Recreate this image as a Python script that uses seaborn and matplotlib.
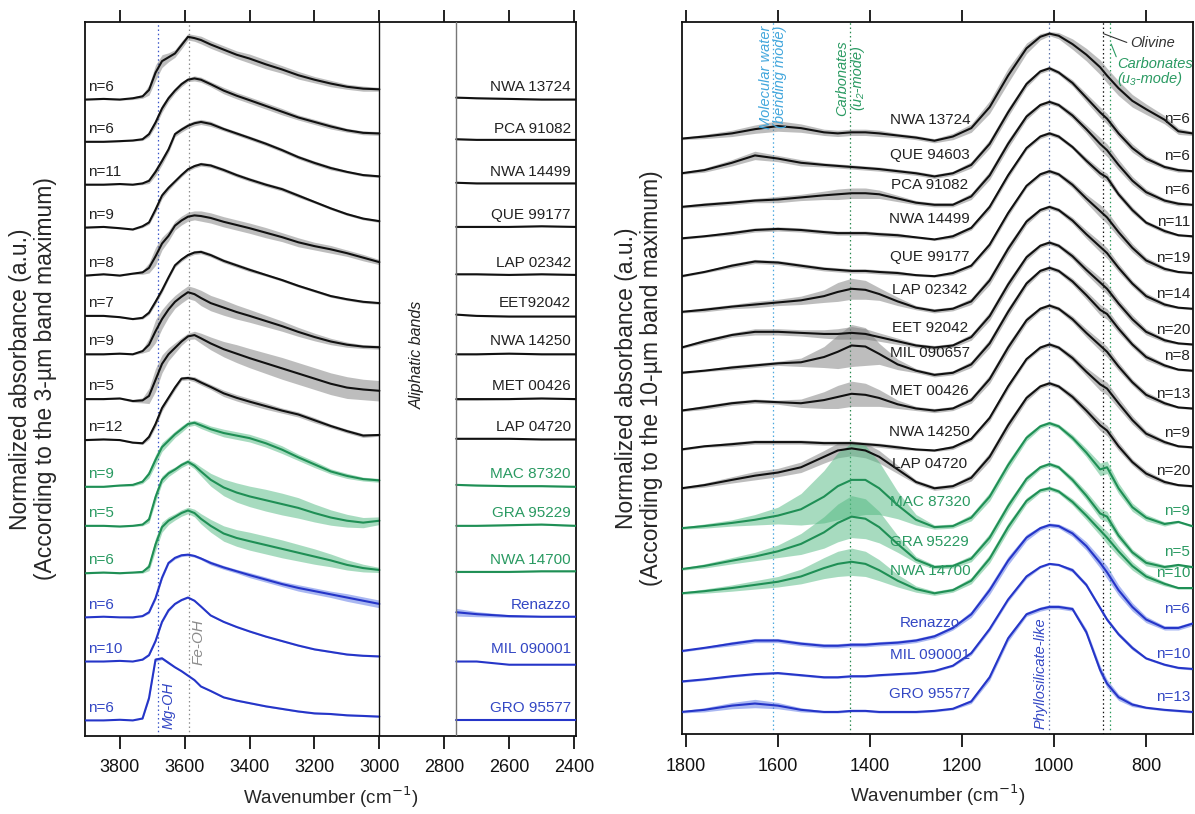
import numpy as np
import pandas as pd
import matplotlib
matplotlib.use("Agg")
import matplotlib.pyplot as plt
import matplotlib.transforms as mtransforms
import seaborn as sns

# ---------------- LEFT PANEL DATA (3-um band) ----------------
L_X = [3905, 3850, 3800, 3760, 3730, 3710, 3690, 3670, 3650, 3630, 3610, 3590, 3570,
       3550, 3520, 3480, 3440, 3400, 3350, 3300, 3250, 3200, 3150, 3100, 3050, 3000]
L_X2 = [2763, 2700, 2600, 2500, 2395]
L_NAMES = ["NWA 13724", "PCA 91082", "NWA 14499", "QUE 99177", "LAP 02342", "EET92042",
           "NWA 14250", "MET 00426", "LAP 04720", "MAC 87320", "GRA 95229", "NWA 14700",
           "Renazzo", "MIL 090001", "GRO 95577"]
L_N = ["n=6", "n=6", "n=11", "n=9", "n=8", "n=7", "n=9", "n=5", "n=12", "n=9", "n=5", "n=6",
       "n=6", "n=10", "n=6"]
L_GROUP = ["CM", "CM", "CM", "CM", "CM", "CM", "CM", "CM", "CM", "CO", "CO", "CO", "CR", "CR", "CR"]
L_OFFSET = [9.94, 9.28, 8.61, 7.94, 7.19, 6.56, 5.96, 5.26, 4.62, 3.89, 3.28, 2.54, 1.85, 1.16, 0.24]
L_Y = [
    [0, 0.01, 0.0, 0.02, 0.05, 0.15, 0.42, 0.6, 0.66, 0.72, 0.85, 0.98, 0.96, 0.93, 0.86, 0.78, 0.7, 0.64, 0.55, 0.47, 0.38, 0.31, 0.25, 0.2, 0.17, 0.16],
    [0, 0.0, 0.01, 0.02, 0.04, 0.12, 0.3, 0.52, 0.68, 0.8, 0.9, 0.97, 0.99, 0.97, 0.9, 0.8, 0.72, 0.65, 0.56, 0.47, 0.38, 0.31, 0.24, 0.18, 0.14, 0.13],
    [0, 0, 0.01, 0.0, 0.02, 0.06, 0.2, 0.37, 0.55, 0.79, 0.86, 0.92, 0.96, 0.98, 0.95, 0.87, 0.8, 0.73, 0.64, 0.54, 0.43, 0.34, 0.26, 0.2, 0.15, 0.13],
    [0, 0.01, -0.01, -0.03, 0.02, 0.08, 0.28, 0.5, 0.62, 0.72, 0.82, 0.91, 0.96, 0.99, 0.97, 0.9, 0.82, 0.75, 0.67, 0.6, 0.5, 0.4, 0.3, 0.21, 0.14, 0.1],
    [0, 0.02, 0.0, 0.03, 0.05, 0.12, 0.3, 0.5, 0.62, 0.78, 0.86, 0.92, 0.94, 0.93, 0.9, 0.84, 0.79, 0.74, 0.67, 0.6, 0.52, 0.46, 0.41, 0.35, 0.28, 0.21],
    [0, 0.0, -0.02, -0.05, -0.03, 0.05, 0.22, 0.4, 0.6, 0.79, 0.88, 0.95, 0.99, 1.0, 0.95, 0.86, 0.79, 0.72, 0.64, 0.56, 0.47, 0.39, 0.31, 0.26, 0.22, 0.2],
    [0, 0.0, 0.01, 0.0, 0.05, 0.15, 0.36, 0.55, 0.7, 0.82, 0.9, 0.97, 0.94, 0.88, 0.8, 0.73, 0.66, 0.6, 0.52, 0.44, 0.35, 0.27, 0.2, 0.15, 0.12, 0.11],
    [0, 0.0, 0.01, -0.03, -0.02, 0.05, 0.3, 0.55, 0.7, 0.8, 0.9, 0.98, 1.0, 0.95, 0.87, 0.78, 0.71, 0.64, 0.56, 0.48, 0.4, 0.32, 0.24, 0.18, 0.15, 0.13],
    [0, 0.01, 0.0, -0.04, -0.05, 0.05, 0.25, 0.5, 0.66, 0.82, 0.96, 0.97, 0.95, 0.9, 0.83, 0.73, 0.66, 0.6, 0.53, 0.46, 0.4, 0.31, 0.22, 0.14, 0.07, 0.08],
    [0, 0.0, 0.02, 0.03, 0.08, 0.2, 0.42, 0.62, 0.72, 0.82, 0.9, 0.98, 1.0, 0.96, 0.9, 0.84, 0.8, 0.76, 0.68, 0.58, 0.46, 0.35, 0.24, 0.17, 0.12, 0.1],
    [0, 0.0, -0.01, 0.0, 0.02, 0.1, 0.45, 0.72, 0.82, 0.88, 0.95, 1.0, 0.94, 0.85, 0.72, 0.6, 0.52, 0.46, 0.4, 0.34, 0.28, 0.2, 0.13, 0.08, 0.05, 0.08],
    [0, 0.01, 0.0, 0.01, 0.02, 0.1, 0.45, 0.72, 0.82, 0.88, 0.94, 0.98, 0.94, 0.85, 0.74, 0.62, 0.55, 0.5, 0.44, 0.38, 0.32, 0.26, 0.2, 0.13, 0.08, 0.05],
    [0, 0.01, 0.0, 0.0, 0.02, 0.08, 0.3, 0.62, 0.85, 0.93, 0.97, 0.98, 0.96, 0.92, 0.85, 0.78, 0.72, 0.66, 0.59, 0.52, 0.46, 0.41, 0.36, 0.31, 0.26, 0.21],
    [0, 0.0, 0.01, 0.0, 0.03, 0.1, 0.32, 0.62, 0.8, 0.9, 0.96, 1.0, 0.95, 0.86, 0.72, 0.62, 0.54, 0.47, 0.39, 0.32, 0.25, 0.19, 0.15, 0.11, 0.09, 0.08],
    [0, 0.0, 0.01, 0.0, 0.03, 0.35, 0.95, 0.97, 0.9, 0.83, 0.77, 0.7, 0.63, 0.53, 0.46, 0.36, 0.31, 0.27, 0.22, 0.18, 0.14, 0.11, 0.1, 0.08, 0.07, 0.06],
]
L_Y2 = [
    [0.03, 0.02, 0.01, 0.0, 0.0], [0.04, 0.03, 0.03, 0.03, 0.03], [0.03, 0.02, 0.02, 0.02, 0.02],
    [0.01, 0.01, 0.01, 0.02, 0.01], [0.02, 0.02, 0.01, 0.02, 0.01], [0.02, 0.0, -0.01, -0.01, -0.01],
    [0.0, 0.0, 0.01, 0.0, 0.0], [0.0, 0.0, 0.0, 0.01, 0.0], [0.02, 0.02, 0.02, 0.01, 0.01],
    [0.03, 0.02, 0.01, 0.01, 0.0], [0.0, 0.0, 0.01, 0.02, 0.0], [0.02, 0.02, 0.02, 0.03, 0.03],
    [0.08, 0.05, 0.02, 0.01, 0.01], [0.0, 0.0, -0.05, -0.05, -0.05], [0.0, 0.0, 0.0, 0.0, 0.0],
]
L_SD = [
    [0.01, 0.01, 0.01, 0.02, 0.03, 0.08, 0.12, 0.1, 0.07, 0.06, 0.06, 0.05, 0.05, 0.06, 0.06, 0.06, 0.06, 0.07, 0.07, 0.06, 0.06, 0.05, 0.05, 0.04, 0.04, 0.03],
    [0.01, 0.01, 0.01, 0.01, 0.02, 0.04, 0.06, 0.06, 0.05, 0.04, 0.04, 0.03, 0.04, 0.04, 0.04, 0.05, 0.05, 0.05, 0.05, 0.05, 0.04, 0.04, 0.04, 0.03, 0.03, 0.03],
    [0.01, 0.01, 0.01, 0.01, 0.02, 0.04, 0.06, 0.06, 0.05, 0.04, 0.04, 0.04, 0.04, 0.04, 0.04, 0.03, 0.03, 0.03, 0.03, 0.03, 0.03, 0.03, 0.03, 0.02, 0.02, 0.02],
    [0.01, 0.01, 0.01, 0.01, 0.02, 0.03, 0.05, 0.05, 0.04, 0.03, 0.03, 0.03, 0.03, 0.03, 0.03, 0.03, 0.03, 0.03, 0.03, 0.03, 0.03, 0.02, 0.02, 0.02, 0.02, 0.02],
    [0.01, 0.01, 0.01, 0.01, 0.03, 0.08, 0.14, 0.1, 0.08, 0.07, 0.07, 0.07, 0.07, 0.08, 0.08, 0.08, 0.08, 0.08, 0.08, 0.07, 0.07, 0.06, 0.06, 0.05, 0.05, 0.04],
    [0.01, 0.01, 0.01, 0.01, 0.02, 0.03, 0.04, 0.04, 0.03, 0.03, 0.03, 0.03, 0.03, 0.03, 0.03, 0.03, 0.03, 0.03, 0.02, 0.02, 0.02, 0.02, 0.02, 0.02, 0.02, 0.02],
    [0.01, 0.01, 0.01, 0.01, 0.03, 0.1, 0.18, 0.15, 0.12, 0.1, 0.1, 0.1, 0.1, 0.12, 0.12, 0.12, 0.11, 0.1, 0.09, 0.08, 0.07, 0.06, 0.05, 0.04, 0.03, 0.03],
    [0.01, 0.01, 0.01, 0.02, 0.04, 0.12, 0.18, 0.14, 0.1, 0.08, 0.06, 0.05, 0.06, 0.08, 0.1, 0.12, 0.14, 0.15, 0.16, 0.17, 0.17, 0.17, 0.17, 0.17, 0.16, 0.16],
    [0.01, 0.01, 0.01, 0.01, 0.02, 0.04, 0.05, 0.05, 0.04, 0.04, 0.03, 0.03, 0.04, 0.04, 0.04, 0.05, 0.05, 0.05, 0.05, 0.04, 0.04, 0.04, 0.03, 0.03, 0.03, 0.02],
    [0.01, 0.01, 0.01, 0.02, 0.03, 0.06, 0.08, 0.07, 0.06, 0.05, 0.05, 0.04, 0.04, 0.05, 0.05, 0.06, 0.06, 0.06, 0.06, 0.06, 0.05, 0.05, 0.04, 0.04, 0.03, 0.03],
    [0.01, 0.01, 0.01, 0.01, 0.02, 0.05, 0.08, 0.06, 0.05, 0.04, 0.04, 0.04, 0.05, 0.07, 0.1, 0.13, 0.15, 0.16, 0.17, 0.17, 0.16, 0.14, 0.12, 0.1, 0.08, 0.06],
    [0.01, 0.01, 0.01, 0.01, 0.02, 0.06, 0.1, 0.08, 0.06, 0.05, 0.05, 0.05, 0.06, 0.08, 0.1, 0.12, 0.13, 0.14, 0.14, 0.14, 0.13, 0.12, 0.1, 0.08, 0.06, 0.04],
    [0.0, 0.0, 0.0, 0.01, 0.01, 0.02, 0.03, 0.03, 0.02, 0.02, 0.02, 0.02, 0.02, 0.02, 0.03, 0.03, 0.03, 0.04, 0.04, 0.04, 0.05, 0.05, 0.05, 0.06, 0.06, 0.06],
    [0.0, 0.0, 0.0, 0.0, 0.01, 0.01, 0.02, 0.02, 0.02, 0.01, 0.01, 0.01, 0.01, 0.01, 0.01, 0.01, 0.01, 0.01, 0.01, 0.01, 0.01, 0.01, 0.01, 0.01, 0.01, 0.01],
    [0.0, 0.0, 0.0, 0.0, 0.01, 0.03, 0.03, 0.02, 0.02, 0.01, 0.01, 0.01, 0.01, 0.01, 0.01, 0.01, 0.01, 0.01, 0.01, 0.01, 0.01, 0.01, 0.01, 0.01, 0.01, 0.01],
]
L_SD2 = [
    [0.01, 0.01, 0.01, 0.01, 0.01], [0.01, 0.01, 0.01, 0.01, 0.01], [0.01, 0.01, 0.01, 0.01, 0.01],
    [0.01, 0.01, 0.01, 0.01, 0.01], [0.01, 0.01, 0.01, 0.01, 0.01], [0.01, 0.01, 0.01, 0.01, 0.01],
    [0.01, 0.01, 0.01, 0.01, 0.01], [0.02, 0.02, 0.01, 0.01, 0.01], [0.01, 0.01, 0.01, 0.01, 0.01],
    [0.01, 0.01, 0.01, 0.01, 0.01], [0.01, 0.01, 0.01, 0.01, 0.01], [0.01, 0.01, 0.01, 0.01, 0.01],
    [0.06, 0.04, 0.02, 0.01, 0.01], [0.0, 0.0, 0.0, 0.0, 0.0], [0.0, 0.0, 0.0, 0.0, 0.0],
]
L_TICKS = [3800, 3600, 3400, 3200, 3000, 2800, 2600, 2400]

# ---------------- RIGHT PANEL DATA (10-um band) ----------------
R_X = [1810, 1760, 1700, 1650, 1600, 1550, 1500, 1470, 1440, 1410, 1380, 1340, 1300, 1260, 1220, 1180,
       1140, 1100, 1060, 1030, 1010, 990, 960, 930, 900, 885, 860, 830, 800, 760, 730, 700]
R_NAMES = ["NWA 13724", "QUE 94603", "PCA 91082", "NWA 14499", "QUE 99177", "LAP 02342", "EET 92042",
           "MIL 090657", "MET 00426", "NWA 14250", "LAP 04720", "MAC 87320", "GRA 95229", "NWA 14700",
           "Renazzo", "MIL 090001", "GRO 95577"]
R_N = ["n=6", "n=6", "n=6", "n=11", "n=19", "n=14", "n=20", "n=8", "n=13", "n=9", "n=20", "n=9", "n=5",
       "n=10", "n=6", "n=10", "n=13"]
R_GROUP = ["CM"] * 11 + ["CO"] * 3 + ["CR"] * 3
R_OFFSET = [5.67, 5.34, 5.02, 4.72, 4.36, 4.02, 3.68, 3.44, 3.08, 2.71, 2.34, 1.96, 1.57, 1.34, 0.99, 0.62, 0.21]
R_Y = [
    [0, 0.02, 0.05, 0.09, 0.12, 0.1, 0.06, 0.05, 0.06, 0.06, 0.05, 0.03, 0.01, -0.02, 0.02, 0.1, 0.3, 0.6, 0.86, 0.97, 1.0, 0.98, 0.9, 0.8, 0.68, 0.6, 0.48, 0.36, 0.28, 0.18, 0.07, 0.05],
    [0, 0.03, 0.1, 0.17, 0.14, 0.1, 0.08, 0.07, 0.06, 0.05, 0.04, 0.02, 0.0, -0.03, 0.0, 0.08, 0.28, 0.58, 0.85, 0.97, 1.0, 0.96, 0.86, 0.72, 0.58, 0.52, 0.38, 0.24, 0.14, 0.06, 0.03, 0.02],
    [0, 0.02, 0.04, 0.06, 0.07, 0.09, 0.11, 0.12, 0.13, 0.13, 0.12, 0.08, 0.04, 0.02, 0.02, 0.1, 0.3, 0.6, 0.86, 0.97, 1.0, 0.97, 0.87, 0.74, 0.6, 0.54, 0.4, 0.25, 0.14, 0.06, 0.03, 0.02],
    [0, 0.02, 0.05, 0.08, 0.09, 0.08, 0.06, 0.05, 0.05, 0.05, 0.04, 0.03, 0.01, -0.01, 0.02, 0.1, 0.3, 0.6, 0.86, 0.97, 1.0, 0.97, 0.87, 0.74, 0.62, 0.58, 0.42, 0.27, 0.15, 0.07, 0.03, 0.02],
    [0, 0.04, 0.1, 0.14, 0.13, 0.1, 0.07, 0.06, 0.05, 0.05, 0.04, 0.03, 0.01, 0.0, 0.03, 0.1, 0.3, 0.6, 0.86, 0.97, 1.0, 0.97, 0.87, 0.74, 0.62, 0.56, 0.42, 0.27, 0.15, 0.07, 0.04, 0.03],
    [0, 0.02, 0.05, 0.07, 0.09, 0.11, 0.15, 0.19, 0.22, 0.21, 0.17, 0.1, 0.04, 0.01, 0.03, 0.1, 0.3, 0.6, 0.86, 0.97, 1.0, 0.97, 0.87, 0.74, 0.62, 0.56, 0.42, 0.27, 0.15, 0.07, 0.04, 0.03],
    [0, 0.06, 0.12, 0.15, 0.15, 0.14, 0.13, 0.13, 0.14, 0.13, 0.1, 0.06, 0.02, 0.0, 0.02, 0.1, 0.3, 0.6, 0.86, 0.97, 1.0, 0.97, 0.87, 0.74, 0.62, 0.56, 0.42, 0.27, 0.15, 0.07, 0.04, 0.03],
    [0, 0.02, 0.05, 0.07, 0.09, 0.1, 0.15, 0.2, 0.26, 0.25, 0.18, 0.08, 0.02, -0.02, 0.0, 0.08, 0.28, 0.58, 0.85, 0.97, 1.0, 0.97, 0.87, 0.74, 0.6, 0.56, 0.42, 0.27, 0.15, 0.07, 0.03, 0.02],
    [0, 0.03, 0.07, 0.09, 0.08, 0.07, 0.1, 0.13, 0.16, 0.15, 0.12, 0.06, 0.02, 0.0, 0.02, 0.1, 0.3, 0.6, 0.86, 0.97, 1.0, 0.97, 0.87, 0.74, 0.62, 0.56, 0.42, 0.27, 0.15, 0.07, 0.03, 0.02],
    [0, 0.03, 0.05, 0.07, 0.07, 0.07, 0.06, 0.06, 0.06, 0.05, 0.04, 0.02, 0.0, -0.01, 0.02, 0.1, 0.3, 0.6, 0.86, 0.97, 1.0, 0.97, 0.87, 0.74, 0.62, 0.58, 0.44, 0.28, 0.15, 0.07, 0.03, 0.02],
    [0, 0.03, 0.08, 0.12, 0.15, 0.2, 0.3, 0.36, 0.38, 0.36, 0.3, 0.18, 0.06, 0.0, 0.02, 0.1, 0.3, 0.6, 0.86, 0.97, 1.0, 0.97, 0.87, 0.74, 0.6, 0.55, 0.4, 0.25, 0.14, 0.06, 0.03, 0.02],
    [0, 0.02, 0.05, 0.08, 0.12, 0.18, 0.3, 0.4, 0.46, 0.46, 0.38, 0.22, 0.08, 0.01, 0.02, 0.1, 0.3, 0.6, 0.86, 0.97, 1.0, 0.97, 0.86, 0.72, 0.56, 0.58, 0.38, 0.2, 0.1, 0.04, 0.06, 0.02],
    [0, 0.03, 0.08, 0.12, 0.17, 0.24, 0.35, 0.44, 0.5, 0.48, 0.4, 0.24, 0.09, 0.02, 0.03, 0.1, 0.3, 0.6, 0.86, 0.97, 1.0, 0.97, 0.85, 0.7, 0.53, 0.5, 0.32, 0.16, 0.06, 0.02, 0.04, 0.02],
    [0, 0.02, 0.05, 0.08, 0.11, 0.16, 0.24, 0.28, 0.3, 0.28, 0.22, 0.12, 0.04, 0.0, 0.03, 0.12, 0.33, 0.63, 0.88, 0.98, 1.0, 0.97, 0.87, 0.74, 0.6, 0.53, 0.4, 0.26, 0.16, 0.09, 0.05, 0.05],
    [-0.2, -0.17, -0.13, -0.1, -0.1, -0.13, -0.15, -0.15, -0.14, -0.14, -0.13, -0.12, -0.1, -0.06, 0.02, 0.15, 0.38, 0.66, 0.88, 0.97, 1.0, 0.99, 0.92, 0.8, 0.64, 0.55, 0.38, 0.22, 0.1, 0.02, 0.02, 0.06],
    [-0.12, -0.1, -0.07, -0.05, -0.04, -0.06, -0.08, -0.08, -0.07, -0.07, -0.06, -0.05, -0.04, -0.02, 0.03, 0.15, 0.38, 0.66, 0.88, 0.97, 1.0, 0.99, 0.94, 0.8, 0.58, 0.47, 0.33, 0.2, 0.1, 0.04, 0.01, 0.0],
    [0, 0.02, 0.06, 0.08, 0.06, 0.02, 0.0, 0.0, 0.01, 0.01, 0.0, 0.0, 0.0, 0.01, 0.03, 0.1, 0.33, 0.7, 0.93, 0.98, 1.0, 1.0, 0.98, 0.76, 0.4, 0.27, 0.14, 0.07, 0.04, 0.02, 0.01, 0.0],
]
R_SD = [
    [0.01, 0.02, 0.03, 0.04, 0.05, 0.04, 0.03, 0.03, 0.03, 0.03, 0.03, 0.02, 0.02, 0.02, 0.03, 0.04, 0.06, 0.07, 0.05, 0.03, 0.02, 0.03, 0.05, 0.06, 0.07, 0.07, 0.07, 0.06, 0.05, 0.04, 0.03, 0.02],
    [0.01, 0.02, 0.03, 0.04, 0.03, 0.03, 0.02, 0.02, 0.02, 0.02, 0.02, 0.02, 0.02, 0.02, 0.02, 0.03, 0.04, 0.04, 0.03, 0.02, 0.02, 0.02, 0.03, 0.04, 0.05, 0.05, 0.04, 0.04, 0.03, 0.02, 0.02, 0.01],
    [0.01, 0.02, 0.02, 0.02, 0.03, 0.03, 0.04, 0.05, 0.05, 0.05, 0.04, 0.03, 0.02, 0.02, 0.02, 0.03, 0.04, 0.04, 0.03, 0.02, 0.02, 0.02, 0.03, 0.04, 0.06, 0.06, 0.05, 0.04, 0.03, 0.02, 0.02, 0.01],
    [0.01, 0.01, 0.02, 0.02, 0.02, 0.02, 0.02, 0.02, 0.02, 0.02, 0.02, 0.02, 0.01, 0.01, 0.02, 0.02, 0.03, 0.03, 0.02, 0.02, 0.02, 0.02, 0.02, 0.03, 0.04, 0.04, 0.03, 0.03, 0.02, 0.02, 0.01, 0.01],
    [0.01, 0.01, 0.02, 0.02, 0.02, 0.02, 0.02, 0.02, 0.02, 0.02, 0.02, 0.02, 0.01, 0.01, 0.02, 0.02, 0.03, 0.03, 0.02, 0.02, 0.02, 0.02, 0.03, 0.04, 0.06, 0.06, 0.05, 0.04, 0.03, 0.02, 0.01, 0.01],
    [0.01, 0.02, 0.02, 0.03, 0.03, 0.04, 0.06, 0.09, 0.1, 0.09, 0.06, 0.04, 0.02, 0.02, 0.02, 0.03, 0.04, 0.04, 0.03, 0.02, 0.02, 0.02, 0.03, 0.04, 0.05, 0.05, 0.04, 0.03, 0.03, 0.02, 0.01, 0.01],
    [0.01, 0.02, 0.02, 0.03, 0.03, 0.03, 0.04, 0.05, 0.06, 0.05, 0.04, 0.03, 0.02, 0.02, 0.02, 0.03, 0.04, 0.04, 0.03, 0.02, 0.02, 0.02, 0.03, 0.04, 0.05, 0.05, 0.04, 0.04, 0.03, 0.02, 0.01, 0.01],
    [0.01, 0.01, 0.02, 0.02, 0.02, 0.04, 0.1, 0.16, 0.2, 0.18, 0.1, 0.05, 0.02, 0.02, 0.02, 0.03, 0.04, 0.04, 0.03, 0.02, 0.02, 0.02, 0.03, 0.04, 0.05, 0.05, 0.04, 0.03, 0.03, 0.02, 0.01, 0.01],
    [0.01, 0.02, 0.02, 0.02, 0.02, 0.04, 0.08, 0.11, 0.12, 0.11, 0.08, 0.04, 0.02, 0.02, 0.02, 0.03, 0.04, 0.04, 0.03, 0.02, 0.02, 0.02, 0.03, 0.04, 0.05, 0.05, 0.04, 0.03, 0.03, 0.02, 0.01, 0.01],
    [0.01, 0.01, 0.02, 0.02, 0.02, 0.02, 0.02, 0.02, 0.02, 0.02, 0.02, 0.02, 0.01, 0.01, 0.02, 0.02, 0.03, 0.03, 0.02, 0.02, 0.02, 0.02, 0.03, 0.04, 0.06, 0.06, 0.05, 0.04, 0.03, 0.02, 0.01, 0.01],
    [0.01, 0.02, 0.03, 0.04, 0.04, 0.05, 0.06, 0.07, 0.07, 0.07, 0.06, 0.04, 0.02, 0.02, 0.02, 0.03, 0.04, 0.04, 0.03, 0.02, 0.02, 0.02, 0.03, 0.04, 0.05, 0.05, 0.04, 0.03, 0.03, 0.02, 0.01, 0.01],
    [0.01, 0.02, 0.03, 0.05, 0.08, 0.15, 0.25, 0.32, 0.35, 0.33, 0.25, 0.13, 0.05, 0.02, 0.02, 0.03, 0.04, 0.04, 0.03, 0.02, 0.02, 0.02, 0.03, 0.04, 0.06, 0.06, 0.05, 0.04, 0.03, 0.02, 0.01, 0.01],
    [0.01, 0.02, 0.03, 0.04, 0.06, 0.1, 0.15, 0.18, 0.2, 0.19, 0.15, 0.08, 0.03, 0.02, 0.02, 0.03, 0.04, 0.04, 0.03, 0.02, 0.02, 0.02, 0.03, 0.04, 0.05, 0.05, 0.04, 0.03, 0.03, 0.02, 0.01, 0.01],
    [0.01, 0.02, 0.03, 0.04, 0.05, 0.07, 0.1, 0.12, 0.13, 0.12, 0.1, 0.06, 0.03, 0.02, 0.02, 0.03, 0.04, 0.04, 0.03, 0.02, 0.02, 0.02, 0.03, 0.04, 0.05, 0.06, 0.05, 0.04, 0.03, 0.02, 0.01, 0.01],
    [0.01, 0.01, 0.02, 0.02, 0.02, 0.02, 0.02, 0.02, 0.02, 0.02, 0.02, 0.02, 0.02, 0.02, 0.02, 0.03, 0.04, 0.04, 0.03, 0.02, 0.02, 0.02, 0.03, 0.04, 0.05, 0.06, 0.05, 0.04, 0.03, 0.02, 0.02, 0.02],
    [0.01, 0.01, 0.01, 0.01, 0.01, 0.01, 0.01, 0.01, 0.01, 0.01, 0.01, 0.01, 0.01, 0.01, 0.01, 0.02, 0.02, 0.02, 0.02, 0.01, 0.01, 0.01, 0.02, 0.02, 0.02, 0.02, 0.02, 0.02, 0.01, 0.01, 0.01, 0.01],
    [0.01, 0.02, 0.03, 0.04, 0.03, 0.02, 0.01, 0.01, 0.01, 0.01, 0.01, 0.01, 0.01, 0.01, 0.01, 0.02, 0.03, 0.03, 0.02, 0.02, 0.02, 0.02, 0.02, 0.03, 0.04, 0.04, 0.03, 0.02, 0.01, 0.01, 0.01, 0.01],
]
R_TICKS = [1800, 1600, 1400, 1200, 1000, 800]

# ---------------- STYLE ----------------
LINE_C = {"CM": "#111111", "CO": "#1f8f55", "CR": "#2535c8"}
FILL_C = {"CM": "#7d7d7d", "CO": "#51b981", "CR": "#5571e5"}
FILL_A = 0.5
TEXT_C = {"CM": "#222222", "CO": "#2a9a62", "CR": "#3347c4"}
FS_LAB = 11

sns.set_theme(style="white")
plt.rcParams['font.family'] = ['Liberation Sans', 'DejaVu Sans']

fig = plt.figure(figsize=(11.95, 8.14), dpi=100)
axL = fig.add_axes([0.0715, 0.0961, 0.4105, 0.877])
axR = fig.add_axes([0.5705, 0.0983, 0.4279, 0.8747])

LYMAX = 713.8 / 64.0
RYMAX = 712.0 / 105.0


def draw(ax, x, off, y, sd, grp):
    y = np.asarray(y, float)
    sd = np.asarray(sd, float)
    ax.fill_between(x, off + y - sd, off + y + sd, color=FILL_C[grp], alpha=FILL_A, lw=0, zorder=1)
    df = pd.DataFrame({"x": x, "y": off + y})
    sns.lineplot(data=df, x="x", y="y", ax=ax, color=LINE_C[grp], lw=1.5,
                 sort=False, estimator=None, zorder=3)


# left panel
for i in range(len(L_NAMES)):
    g = L_GROUP[i]
    draw(axL, L_X, L_OFFSET[i], L_Y[i], L_SD[i], g)
    draw(axL, L_X2, L_OFFSET[i], L_Y2[i], L_SD2[i], g)
    axL.text(3898, L_OFFSET[i] + 0.2, L_N[i], ha="left", va="center", fontsize=FS_LAB, color=TEXT_C[g])
    axL.text(2410, L_OFFSET[i] + 0.2, L_NAMES[i], ha="right", va="center", fontsize=FS_LAB, color=TEXT_C[g])

dot = (0, (1.2, 2.2))
axL.axvline(3682, color="#3a55c8", lw=0.9, ls=dot, zorder=0)
axL.axvline(3588, color="#8c8c8c", lw=0.9, ls=dot, zorder=0)
axL.axvline(3000, color="#111111", lw=1.0, zorder=4)
axL.axvline(2763, color="#777777", lw=1.0, zorder=4)
tL = mtransforms.blended_transform_factory(axL.transData, axL.transAxes)
axL.text(2882, 0.533, "Aliphatic bands", rotation=90, style="italic", ha="center", va="center",
         fontsize=11.5, color="#222222", transform=tL)
axL.text(3650, 0.043, "Mg-OH", rotation=90, style="italic", ha="center", va="center",
         fontsize=10.5, color="#3347c4", transform=tL)
axL.text(3557, 0.131, "Fe-OH", rotation=90, style="italic", ha="center", va="center",
         fontsize=11, color="#8c8c8c", transform=tL)

axL.set_xlim(3906, 2394)
axL.set_ylim(0, LYMAX)
axL.set_xticks(L_TICKS)
axL.set_xticklabels([str(t) for t in L_TICKS])

# right panel
for i in range(len(R_NAMES)):
    g = R_GROUP[i]
    draw(axR, R_X, R_OFFSET[i], R_Y[i], R_SD[i], g)
    axR.text(704, R_OFFSET[i] + R_Y[i][-1] + 0.14, R_N[i], ha="right", va="center", fontsize=FS_LAB, color=TEXT_C[g])
    axR.text(1270, R_OFFSET[i] + R_Y[i][12] + 0.17, R_NAMES[i], ha="center", va="center", fontsize=FS_LAB, color=TEXT_C[g])

axR.axvline(1611, color="#4aa8df", lw=0.9, ls=dot, zorder=0)
axR.axvline(1444, color="#2a8a50", lw=0.9, ls=dot, zorder=0)
axR.axvline(1010, color="#5a70a8", lw=0.9, ls=dot, zorder=0)
axR.axvline(894, color="#111111", lw=0.9, ls=dot, zorder=0)
axR.axvline(878, color="#2a9a5a", lw=0.9, ls=dot, zorder=0)
tR = mtransforms.blended_transform_factory(axR.transData, axR.transAxes)
axR.text(1611, 0.995, "Molecular water\n(bending mode)", rotation=90, style="italic", ha="center",
         va="top", multialignment="center", fontsize=10.5, color="#41a6dc", transform=tR,
         linespacing=1.05)
axR.text(1444, 0.975, "Carbonates\n(u\u2082-mode)", rotation=90, style="italic", ha="center",
         va="top", multialignment="center", fontsize=10.5, color="#2a9a62", transform=tR,
         linespacing=1.05)
axR.text(1030, 0.086, "Phyllosilicate-like", rotation=90, style="italic", ha="center", va="center",
         fontsize=10.5, color="#3347c4", transform=tR)
axR.plot([893, 842], [6.67, 6.586], color="#333333", lw=0.8)
axR.text(834, 6.585, "Olivine", style="italic", ha="left", va="center", fontsize=10.5, color="#333333")
axR.plot([876, 865], [6.571, 6.45], color="#2a9a62", lw=0.8)
axR.text(862, 6.31, "Carbonates\n(u\u2083-mode)", style="italic", ha="left", va="center",
         fontsize=10.5, color="#2a9a62", linespacing=1.05)

axR.set_xlim(1809, 698)
axR.set_ylim(0, RYMAX)
axR.set_xticks(R_TICKS)
axR.set_xticklabels([str(t) for t in R_TICKS])

for ax in (axL, axR):
    ax.set_yticks([])
    ax.tick_params(axis="x", which="both", direction="out", length=9, width=1.3, top=True,
                   labeltop=False, bottom=True, labelsize=13, pad=8, colors="#111111")
    for s in ax.spines.values():
        s.set_color("#111111")
        s.set_linewidth(1.3)
    ax.set_xlabel("Wavenumber (cm$^{-1}$)", fontsize=13.5, labelpad=6)

axL.set_ylabel("Normalized absorbance (a.u.)\n(According to the 3-\u00b5m band maximum)", fontsize=16.5,
               linespacing=1.1)
axL.yaxis.set_label_coords(-0.058, 0.5)
axR.set_ylabel("Normalized absorbance (a.u.)\n(According to the 10-\u00b5m band maximum)", fontsize=16.5,
               linespacing=1.1)
axR.yaxis.set_label_coords(-0.037, 0.5)

fig.savefig("out.png", dpi=100)
